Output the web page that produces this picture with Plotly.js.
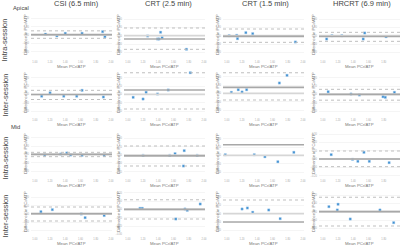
<!DOCTYPE html>
<html><head><meta charset="utf-8">
<script src="https://cdn.plot.ly/plotly-3.0.1.min.js"></script>
<style>html,body{margin:0;padding:0;background:#fff}#chart{width:400px;height:245px}</style>
</head><body><div id="chart"></div>
<script>
// ---- data ----
const columnTitles = ['CSI (6.5 min)', 'CRT (2.5 min)', 'CRT (1.5 min)', 'HRCRT (6.9 min)'];
const regionLabels = ['Apical', 'Mid'];
const sessionLabels = ['Intra-session', 'Inter-session'];
const xTitle = 'Mean PCr/ATP';
const yTitle = 'Difference in PCr/ATP';

// Apical intra-session
const x_r1c1 = [1.14, 1.29, 1.40, 1.62, 1.89, 1.92];
const y_r1c1 = [0.01, -0.01, 0.02, 0.02, 0.04, -0.02];
const x_r1c2 = [1.26, 1.39, 1.41, 1.43, 1.45, 1.77];
const y_r1c2 = [-0.004, -0.04, -0.04, 0.041, -0.024, -0.163];
const x_r1c3 = [1.03, 1.13, 1.14, 1.25, 1.34, 1.90];
const y_r1c3 = [0.0, 0.004, -0.036, 0.036, 0.024, -0.076];
const x_r1c4 = [1.05, 1.12, 1.25, 1.55, 1.53, 1.83];
const y_r1c4 = [-0.04, 0.0, 0.0, 0.032, -0.04, -0.012];
// Apical inter-session
const x_r2c1 = [1.09, 1.20, 1.38, 1.55, 1.62, 1.90];
const y_r2c1 = [-0.02, 0.02, -0.02, -0.02, 0.05, -0.03];
const x_r2c2 = [1.07, 1.20, 1.24, 1.39, 1.53, 1.82];
const y_r2c2 = [-0.036, -0.056, 0.024, 0.004, 0.052, 0.259];
const x_r2c3 = [1.06, 1.15, 1.20, 1.26, 1.69, 1.79];
const y_r2c3 = [0.012, 0.043, 0.016, 0.043, 0.124, 0.216];
const x_r2c4 = [1.07, 1.37, 1.48, 1.79, 1.82, 1.94];
const y_r2c4 = [0.031, 0.004, -0.008, -0.029, -0.036, 0.024];
// Mid intra-session
const x_r3c1 = [1.13, 1.34, 1.42, 1.47, 1.62, 1.91];
const y_r3c1 = [-0.008, 0.004, 0.016, -0.008, -0.012, -0.012];
const x_r3c2 = [1.20, 1.55, 1.62, 1.74, 1.73, 1.91];
const y_r3c2 = [-0.004, -0.004, 0.016, 0.052, -0.132, -0.004];
const x_r3c3 = [0.98, 1.36, 1.50, 1.67, 1.88];
const y_r3c3 = [0.007, 0.007, -0.017, -0.077, 0.036];
const x_r3c4 = [1.11, 1.39, 1.46, 1.54, 1.61, 1.87];
const y_r3c4 = [0.052, -0.004, -0.028, 0.08, -0.028, -0.044];
// Mid inter-session
const x_r4c1 = [1.08, 1.23, 1.61, 1.66, 1.91];
const y_r4c1 = [0.028, 0.052, 0.0, -0.044, -0.018];
const x_r4c2 = [1.16, 1.19, 1.75, 1.78, 1.63, 1.95];
const y_r4c2 = [0.012, 0.012, 0.004, -0.012, -0.116, 0.064];
const x_r4c3 = [1.20, 1.27, 1.34, 1.55, 1.70];
const y_r4c3 = [0.056, 0.068, 0.017, 0.044, -0.06];
const x_r4c4 = [1.08, 1.20, 1.19, 1.36, 1.75, 1.93];
const y_r4c4 = [0.06, 0.089, 0.02, -0.088, 0.02, -0.132];

const bias      = [0.005, -0.04, -0.008, -0.01,  0.0, 0.052, 0.072, 0.0,  0.0, -0.01, 0.127, 0.0,  0.004, 0.0, -0.1, 0.0];
const loaUpper  = [0.05, 0.092, 0.08, 0.04,  0.05, 0.259, 0.247, 0.06,  0.024, 0.108, null, 0.096,  0.084, 0.115, 0.164, 0.173];
const loaLower  = [-0.04, -0.164, -0.08, -0.068,  -0.06, -0.176, -0.08, -0.07,  -0.028, -0.132, null, -0.092,  -0.084, -0.116, null, -0.172];

const xs = [x_r1c1,x_r1c2,x_r1c3,x_r1c4,x_r2c1,x_r2c2,x_r2c3,x_r2c4,x_r3c1,x_r3c2,x_r3c3,x_r3c4,x_r4c1,x_r4c2,x_r4c3,x_r4c4];
const ys = [y_r1c1,y_r1c2,y_r1c3,y_r1c4,y_r2c1,y_r2c2,y_r2c3,y_r2c4,y_r3c1,y_r3c2,y_r3c3,y_r3c4,y_r4c1,y_r4c2,y_r4c3,y_r4c4];

// ---- layout geometry ----
const W = 400, H = 245;
const colLeft = [31, 124, 223, 319], panelW = 81;
const rowTop = [13, 71, 132, 190], panelH = 45;
const yRanges = [[-0.276,0.264],[-0.268,0.272],[-0.268,0.272],[-0.268,0.272],
                 [-0.258,0.282],[-0.26,0.28],[-0.272,0.268],[-0.26,0.28],
                 [-0.272,0.268],[-0.264,0.276],[-0.26,0.28],[-0.216,0.324],
                 [-0.252,0.288],[-0.308,0.232],[-0.256,0.284],[-0.28,0.26]];
const xRange = [0.95, 2.013];

const FONT = 'Liberation Sans, Arial, sans-serif';
const traces = [], shapes = [], annotations = [];
const layout = {width: W, height: H, margin: {l:0,r:0,t:0,b:0}, paper_bgcolor:'#fff', plot_bgcolor:'#fff',
  showlegend:false, font:{family:FONT}};

for (let i = 0; i < 16; i++) {
  const r = Math.floor(i/4), c = i % 4;
  const n = i === 0 ? '' : String(i+1);
  const L = colLeft[c], T = rowTop[r];
  layout['xaxis'+n] = {domain:[L/W, (L+panelW)/W], range:xRange, anchor:'y'+n, dtick:0.2, tick0:0,
    tickformat:'.2f', showgrid:false, zeroline:false, showline:false, ticks:'',
    tickfont:{size:2.6, color:'#aaa', family:FONT}, ticklabelstandoff:1};
  layout['yaxis'+n] = {domain:[(H-T-panelH)/H, (H-T)/H], range:yRanges[i], anchor:'x'+n, dtick:0.1, tick0:0,
    tickformat:'.2f', showgrid:true, gridcolor:'#eeeeee', gridwidth:0.6, zeroline:false, showline:false, ticks:'',
    tickfont:{size:2.6, color:'#aaa', family:FONT}, ticklabelstandoff:1};
  // zero reference (light)
  shapes.push({type:'line', xref:'x'+n+' domain', yref:'y'+n, x0:0, x1:1, y0:0, y1:0,
    line:{color:'#d6d6d6', width:1.6}});
  // limits of agreement (dotted)
  [loaUpper[i], loaLower[i]].forEach(v => { if (v !== null) shapes.push({type:'line', xref:'x'+n+' domain', yref:'y'+n,
    x0:0, x1:1, y0:v, y1:v, line:{color:'#b8b8b8', width:0.9, dash:'dot'}}); });
  // mean difference (thick grey)
  shapes.push({type:'line', xref:'x'+n+' domain', yref:'y'+n, x0:0, x1:1, y0:bias[i], y1:bias[i],
    line:{color:'#a8a8a8', width:1.7}});
  traces.push({type:'scatter', mode:'markers', x:xs[i], y:ys[i], xaxis:'x'+n, yaxis:'y'+n,
    marker:{symbol:'square', size:2.3, color:'#3d8fd1', line:{width:0.4, color:'#a6cced'}}, cliponaxis:false});
  // axis titles
  annotations.push({xref:'paper', yref:'paper', x:(L+panelW/2)/W, y:(H-(T+panelH+8))/H, text:xTitle, showarrow:false,
    font:{size:4.3, color:'#777', family:FONT}, xanchor:'center', yanchor:'middle'});
  annotations.push({xref:'paper', yref:'paper', x:(L-5.5)/W, y:(H-(T+panelH/2 - 1))/H, text:yTitle, showarrow:false,
    textangle:-90, font:{size:4.2, color:'#777', family:FONT}, xanchor:'center', yanchor:'middle'});
}
const colCenters = [76, 168, 265, 362];
columnTitles.forEach((t, c) => annotations.push({xref:'paper', yref:'paper', x:colCenters[c]/W, y:(H-4)/H, text:t,
  showarrow:false, font:{size:7.5, color:'#444', family:FONT}, xanchor:'center', yanchor:'middle'}));
const regionPos = [[21, 8], [15, 127]];
regionLabels.forEach((t, k) => annotations.push({xref:'paper', yref:'paper', x:regionPos[k][0]/W, y:(H-regionPos[k][1])/H,
  text:t, showarrow:false, font:{size:5.8, color:'#444', family:FONT}, xanchor:'center', yanchor:'middle'}));
const sessionCenters = [40, 95, 158, 216];
sessionCenters.forEach((yc, k) => annotations.push({xref:'paper', yref:'paper', x:4.5/W, y:(H-yc)/H,
  text:sessionLabels[k % 2], showarrow:false, textangle:-90, font:{size:7.5, color:'#444', family:FONT},
  xanchor:'center', yanchor:'middle'}));
layout.shapes = shapes;
layout.annotations = annotations;
Plotly.newPlot('chart', traces, layout, {staticPlot:true, displayModeBar:false});
</script></body></html>
